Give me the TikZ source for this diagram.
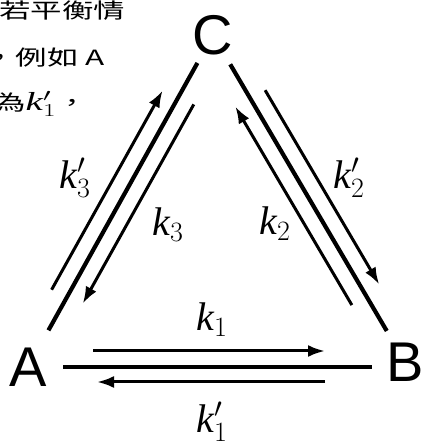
\RequirePackage{fix-cm}
\documentclass[tikz,border=0pt]{standalone}
\usepackage{fontspec}
\setmainfont{Liberation Serif}
\newfontfamily\sans{Liberation Sans}
\newfontfamily\cjk{Noto Sans CJK TC}
\usetikzlibrary{arrows.meta,calc}
\tikzset{state/.style={inner sep=0pt,font=\sans\fontsize{56}{56}\selectfont},rate/.style={inner sep=0pt,font=\fontsize{40}{40}\selectfont},note/.style={anchor=west,inner sep=0pt,font=\cjk\fontsize{21}{21}\selectfont},bond/.style={line width=4.2pt},flow/.style={line width=3pt,-{Latex[length=17pt,width=12pt]}}}

\begin{document}
\begin{tikzpicture}[x=1pt,y=1pt]
\useasboundingbox (0,0) rectangle (425,448);
\node[note] (line1) at (-1,437) {\scalebox{1.5}[1]{若平衡情}};
\node[note] (line2) at (-16,390) {\scalebox{1.5}[1]{，例如 A}};
\node[note] (line3) at (-6,344) {\scalebox{1.5}[1]{為\fontsize{26}{26}\selectfont$\mathit{k}_1'$\fontsize{21}{21}\selectfont，}};
\node[state] (A) at (28,81) {A};
\node[state] (B) at (405,86) {B};
\node[state] (C) at (213,413) {C};
% A <-> B
\draw[bond,shorten <=35pt,shorten >=33pt] (A.center) -- (A.center -| B.center);
\draw[flow,shorten <=65pt,shorten >=80pt] ($(A.center)+(0,16)$) -- ($(A.center -| B.center)+(0,16)$);
\draw[flow,shorten <=80pt,shorten >=69pt] ($(A.center -| B.center)+(0,-15)$) -- ($(A.center)+(0,-15)$);
% A <-> C
\draw[bond,shorten <=42pt,shorten >=32pt] (A.center) -- (C.center);
\draw[flow,shorten <=79pt,shorten >=73pt] ($(A.center)!17pt!90:(C.center)$) -- ($(C.center)!17pt!-90:(A.center)$);
\draw[flow,shorten <=70pt,shorten >=82pt] ($(C.center)!17pt!90:(A.center)$) -- ($(A.center)!17pt!-90:(C.center)$);
% C <-> B
\draw[bond,shorten <=34pt,shorten >=36pt] (C.center) -- (B.center);
\draw[flow,shorten <=74pt,shorten >=80pt] ($(C.center)!17pt!90:(B.center)$) -- ($(B.center)!17pt!-90:(C.center)$);
\draw[flow,shorten <=76pt,shorten >=73pt] ($(B.center)!17pt!90:(C.center)$) -- ($(C.center)!17pt!-90:(B.center)$);
% rate constants
\node[rate] (k1) at (212,128) {$\mathit{k}_1$};
\node[rate] (k1r) at (212,26) {$\mathit{k}_1'$};
\node[rate] (k2r) at (349,270) {$\mathit{k}_2'$};
\node[rate] (k2) at (275,224) {$\mathit{k}_2$};
\node[rate] (k3r) at (75,270) {$\mathit{k}_3'$};
\node[rate] (k3) at (168,223) {$\mathit{k}_3$};
\end{tikzpicture}
\end{document}
